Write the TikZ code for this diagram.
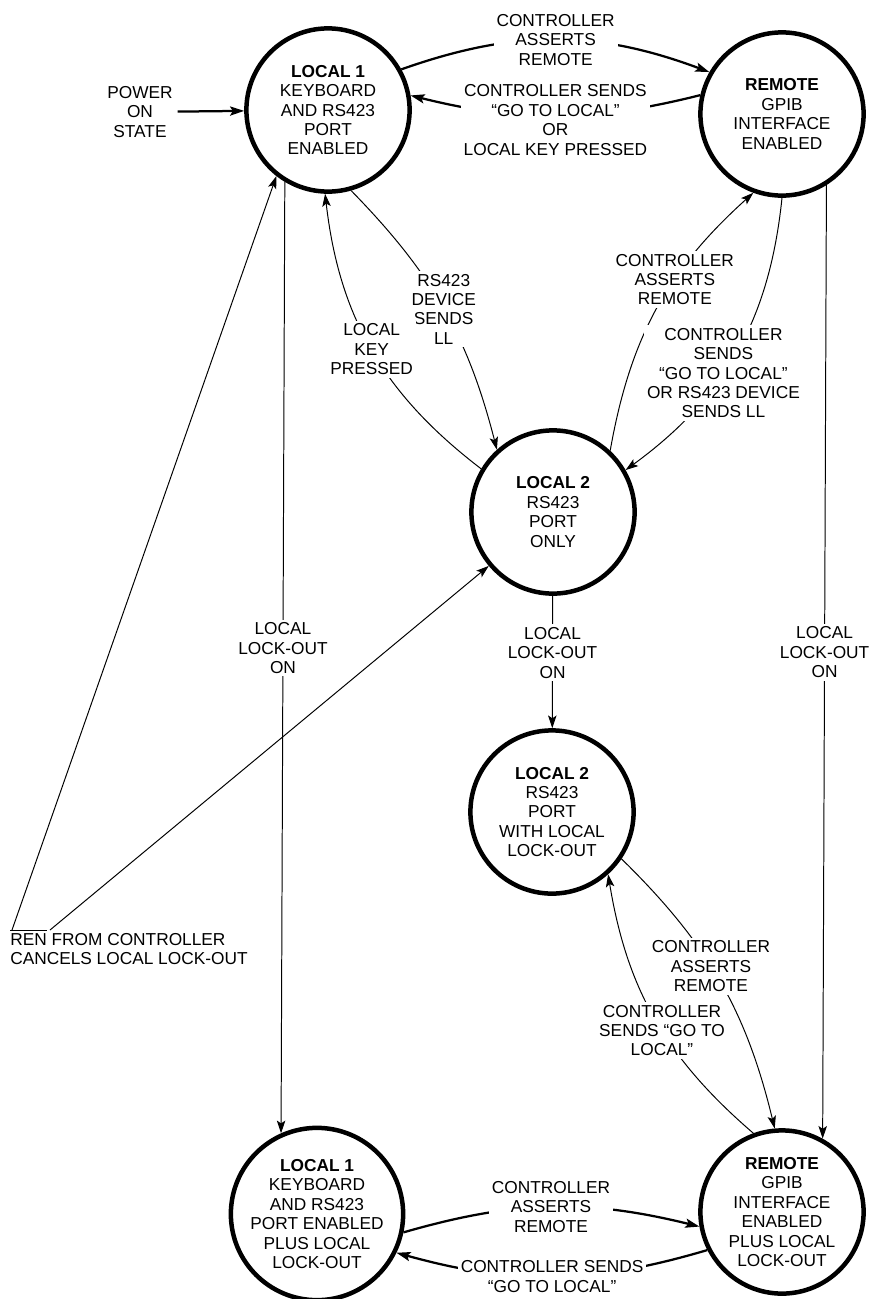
\documentclass[tikz,border=0pt]{standalone}
\usepackage{fontspec}
\setmainfont{Liberation Sans}
\usepackage{tikz}
\usetikzlibrary{arrows.meta, positioning, calc}
\newcommand{\lblfont}{\fontsize{12.3}{13.8}\selectfont}
\newcommand{\renbar}[1]{{\setbox0\hbox{#1}\rlap{\rule[\dimexpr\ht0+1.6pt\relax]{\wd0}{0.8pt}}\box0}}
\tikzset{
	statenode/.style={draw, circle, line width=3.2pt, minimum size=4.08cm, inner sep=0pt, align=center, font=\lblfont},
	edgelbl/.style={fill=white, inner sep=2pt, align=center, font=\lblfont},
	thinarr/.style={-{Stealth[length=9pt, width=6pt, inset=2pt]}, line width=0.7pt},
	thickarr/.style={-{Stealth[length=10pt, width=6.5pt, inset=2pt]}, line width=1.6pt},
}

\begin{document}
\begin{tikzpicture}[>=Stealth]
	\useasboundingbox (0,0) rectangle (21.75,-32.475);

	% States
	\node[statenode] (loc1) at (8.2,-2.75) {\textbf{LOCAL 1}\\KEYBOARD\\AND RS423\\PORT\\ENABLED};
	\node[statenode] (rem) at (19.55,-2.85) {\textbf{REMOTE}\\GPIB\\INTERFACE\\ENABLED};
	\node[statenode] (loc2) at (13.825,-12.8) {\textbf{LOCAL 2}\\RS423\\PORT\\ONLY};
	\node[statenode] (loc2llo) at (13.8,-20.3) {\textbf{LOCAL 2}\\RS423\\PORT\\WITH LOCAL\\LOCK-OUT};
	\node[statenode] (loc1llo) at (7.925,-30.35) {\textbf{LOCAL 1}\\KEYBOARD\\AND RS423\\PORT ENABLED\\PLUS LOCAL\\LOCK-OUT};
	\node[statenode] (remllo) at (19.55,-30.3) {\textbf{REMOTE}\\GPIB\\INTERFACE\\ENABLED\\PLUS LOCAL\\LOCK-OUT};

	% Free labels
	\node[align=center, font=\lblfont] (pwr) at (3.5,-2.8) {POWER\\ON\\STATE};
	\node[anchor=north west, align=left, inner sep=0pt, font=\lblfont] (ren) at (0.25,-23.25) {\renbar{REN} FROM CONTROLLER\\CANCELS LOCAL LOCK-OUT};
	\coordinate (renL) at ($(ren.north west)+(0.05,0)$);
	\coordinate (renR) at ($(ren.north west)+(1.0,0)$);

	\draw[thickarr] (pwr) -- (loc1);

	% Top pair
	\draw[thickarr] (loc1.29) to[bend left=20] node[edgelbl] {CONTROLLER\\ASSERTS\\REMOTE} (rem.150);
	\draw[thickarr] (rem.167) to[bend left=14] node[edgelbl, yshift=-3pt] {CONTROLLER SENDS\\“GO TO LOCAL”\\OR\\LOCAL KEY PRESSED} (loc1.10);

	% Local 1 <-> Local 2
	\draw[thinarr] (loc1.-74) to[bend left=15] node[edgelbl] {RS423\\DEVICE\\SENDS\\LL} (loc2.132);
	\draw[thinarr] (loc2.149) to[bend left=23] node[edgelbl] {LOCAL\\KEY\\PRESSED} (loc1.-92);

	% Remote <-> Local 2
	\draw[thinarr] (loc2.47) to[bend left=19] node[edgelbl, pos=0.62] {CONTROLLER\\ASSERTS\\REMOTE} (rem.-110);
	\draw[thinarr] (rem.-90) to[bend left=24] node[edgelbl, pos=0.58] {CONTROLLER\\SENDS\\“GO TO LOCAL”\\OR RS423 DEVICE\\SENDS LL} (loc2.30);

	% Lock-out on
	\draw[thinarr] (loc1.-121) -- node[edgelbl, pos=0.49] {LOCAL\\LOCK-OUT\\ON} (loc1llo.114);
	\draw[thinarr] (rem.-58) -- node[edgelbl, pos=0.49] {LOCAL\\LOCK-OUT\\ON} (remllo.61);
	\draw[thinarr] (loc2) -- node[edgelbl, pos=0.43] {LOCAL\\LOCK-OUT\\ON} (loc2llo);

	% REN cancels lock-out
	\draw[thinarr] (renL) -- (loc1.232);
	\draw[thinarr] (renR) -- (loc2.220);

	% Local 2 lock-out <-> Remote lock-out
	\draw[thinarr] (loc2llo.-34) to[bend left=16] node[edgelbl, pos=0.44] {CONTROLLER\\ASSERTS\\REMOTE} (remllo.95);
	\draw[thinarr] (remllo.110) to[bend left=20] node[edgelbl, pos=0.45] {CONTROLLER\\SENDS “GO TO\\LOCAL”} (loc2llo.-48);

	% Bottom pair
	\draw[thickarr] (loc1llo.-12) to[bend left=15] node[edgelbl] {CONTROLLER\\ASSERTS\\REMOTE} (remllo.190);
	\draw[thickarr] (remllo.207) to[bend left=16] node[edgelbl] {CONTROLLER SENDS\\“GO TO LOCAL”} (loc1llo.-26);
\end{tikzpicture}
\end{document}
